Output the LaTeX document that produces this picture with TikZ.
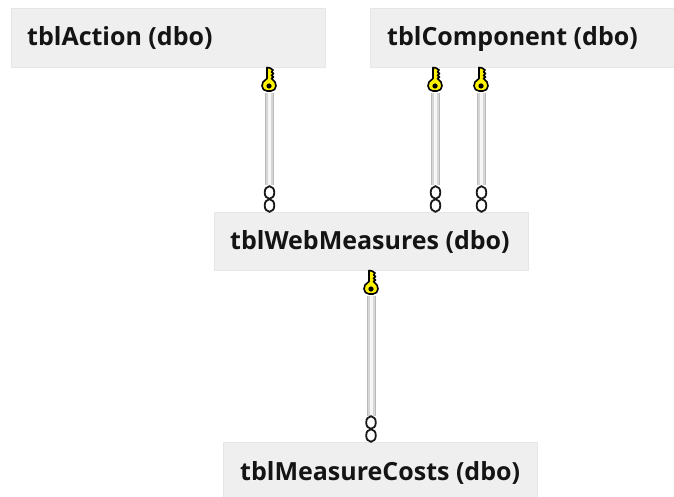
\documentclass[tikz,border=0pt]{standalone}
\usepackage{fontspec}
\setmainfont{Open Sans}
\definecolor{boxfill}{HTML}{EFEFEF}
\definecolor{boxedge}{HTML}{E6E6E6}
\definecolor{linkleft}{HTML}{D6D6D6}
\definecolor{linkright}{HTML}{BABABA}
\definecolor{linkcore}{HTML}{F6F6F6}
\definecolor{keyfill}{HTML}{FFF200}
\tikzset{
  x=1pt,y=-1pt,
  tablebox/.style={draw=boxedge,line width=1pt,fill=boxfill,minimum height=58pt,minimum width=314pt,inner sep=0pt,anchor=north west},
  tabletext/.style={font=\bfseries\fontsize{25}{28}\selectfont,text=black!92,anchor=west,inner sep=0pt},
  port/.style={inner sep=0pt,minimum size=1pt},
  linkouter/.style={line width=9pt,draw=linkright},
  linkmiddle/.style={line width=7pt,draw=linkleft},
  linkcentre/.style={line width=3.5pt,draw=linkcore},
  pics/dbkey/.style={code={
    \draw[black,line width=1.6pt,fill=keyfill,line join=round]
      (-2,-18.5) -- (1,-18) -- (4,-16) -- (2.5,-14) -- (4.5,-12.5) -- (2.5,-10.5) -- (4.5,-9) -- (2.5,-7.5)
      -- (6,-4) -- (7,0) -- (5.5,3.5) -- (2,5) -- (-2,5) -- (-5.5,3.5) -- (-7,0) -- (-6,-4) -- (-2,-7.5) -- cycle;
    \fill[black] (0,0) circle (2.6);
  }},
  pics/dbrings/.style={code={
    \draw[black!90,line width=1.8pt] (0,-19.5) ellipse (4.8 and 6.3);
    \draw[black!90,line width=1.8pt] (0,-6.5) ellipse (4.8 and 6.3);
  }}
}
\newcommand{\dblink}[2]{%
  \draw[linkouter] (#1) -- (#2);
  \draw[linkmiddle] (#1) -- (#2);
  \draw[linkcentre] (#1) -- (#2);
}
\begin{document}
\begin{tikzpicture}
\useasboundingbox (0,0) rectangle (674,497);
\fill[white] (0,0) rectangle (674,497);
\node[tablebox,minimum width=314pt,minimum height=59pt] (action) at (11,8) {};
\node[tablebox,minimum width=304pt,minimum height=59pt] (component) at (370,8) {};
\node[tablebox,minimum height=58pt] (web) at (214,212) {};
\node[tablebox,minimum height=56pt] (costs) at (223,442) {};
\node[tabletext] (actiontext) at (27,38) {tblAction (dbo)};
\node[tabletext] (componenttext) at (387,39) {tblComponent (dbo)};
\node[tabletext] (webtext) at (230,242) {tblWebMeasures (dbo)};
\node[tabletext] (coststext) at (240,473) {tblMeasureCosts (dbo)};
\node[port] (k1) at (269.5,92) {};
\node[port] (r1) at (269.5,186) {};
\node[port] (k2) at (435.5,92) {};
\node[port] (r2) at (435.5,186) {};
\node[port] (k3) at (481.5,92) {};
\node[port] (r3) at (481.5,186) {};
\node[port] (k4) at (371.5,295) {};
\node[port] (r4) at (371.5,417) {};
\dblink{k1}{r1}
\dblink{k2}{r2}
\dblink{k3}{r3}
\dblink{k4}{r4}
\pic at (269,86) {dbkey};
\pic at (435,86) {dbkey};
\pic at (481,86) {dbkey};
\pic at (371,289) {dbkey};
\pic at (269.5,212) {dbrings};
\pic at (435.5,212) {dbrings};
\pic at (481.5,212) {dbrings};
\pic at (371,442) {dbrings};
\end{tikzpicture}
\end{document}
